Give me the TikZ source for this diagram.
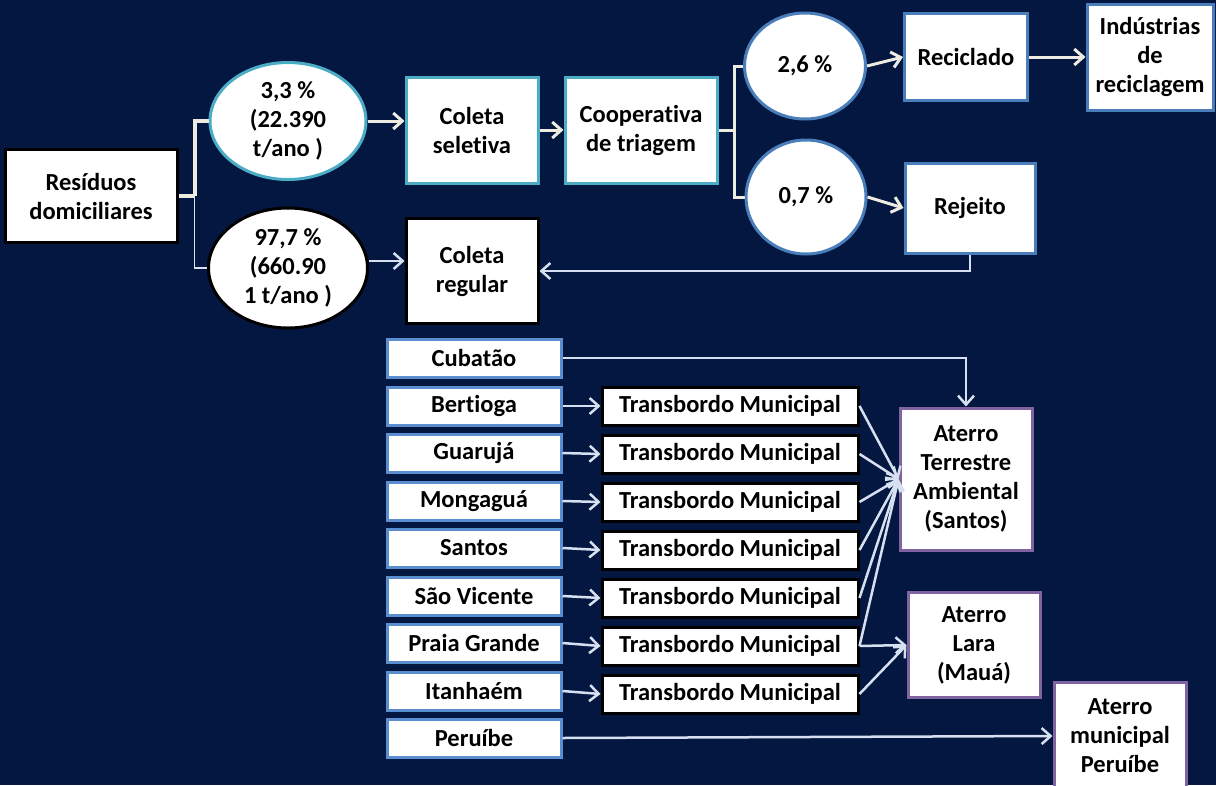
\documentclass[tikz,border=0pt]{standalone}
\usepackage{fontspec}
\setmainfont{Carlito}[Ligatures=NoCommon]
\usetikzlibrary{arrows.meta,shapes.geometric}
\definecolor{fundo}{HTML}{031741}
\definecolor{azulclaro}{HTML}{4BACC6}
\definecolor{azul}{HTML}{4A7EBB}
\definecolor{azulmun}{HTML}{5B8ED0}
\definecolor{roxo}{HTML}{8064A2}
\definecolor{creme}{HTML}{EEECE1}
\definecolor{cinzaazul}{HTML}{D6E0F0}
\tikzset{
	texto/.style={font=\bfseries\fontsize{24.5}{29}\selectfont, text=black, align=center, inner sep=0pt},
	caixa/.style={texto, draw=black, fill=white, line width=3pt},
	elipse/.style={texto, ellipse, draw=black, fill=white, line width=3pt},
	liga/.style={draw=creme, line width=3pt},
	seta/.style={liga, -{Straight Barb[length=9pt, width=16pt, line width=3pt]}},
	setab/.style={draw=cinzaazul, line width=2.5pt, -{Straight Barb[length=9pt, width=16pt, line width=2.5pt]}},
	municipio/.style={caixa, draw=azulmun, minimum width=174pt, minimum height=38pt},
	transbordo/.style={caixa, minimum width=256pt, minimum height=38pt},
	aterro/.style={caixa, draw=roxo}
}
\begin{document}
\begin{tikzpicture}[x=1pt, y=-1pt]
		%%%%% START %%%%%
		\fill[fundo] (0, 0) rectangle (1216, 785);
		\useasboundingbox (0, 0) rectangle (1216, 785);
		
		\node[caixa, minimum width=172pt, minimum height=93pt] (res) at (91, 196) {Resíduos\\domiciliares};
		\node[elipse, draw=azulclaro, minimum width=156pt, minimum height=117pt] (e33) at (288, 121) {3,3 \%\\(22.390\\t/ano )};
		\node[elipse, minimum width=159pt, minimum height=120pt] (e977) at (288, 268) {97,7 \%\\(660.90\\1 t/ano )};
		\node[caixa, draw=azulclaro, minimum width=132pt, minimum height=106pt] (cs) at (472, 130) {Coleta\\seletiva};
		\node[caixa, draw=azulclaro, minimum width=152pt, minimum height=106pt] (coop) at (641, 130) {Cooperativa\\de triagem};
		\node[caixa, minimum width=132pt, minimum height=105pt] (cr) at (472, 271) {Coleta\\regular};
		
		\node[elipse, draw=azul, minimum width=121pt, minimum height=106pt] (e26) at (805, 66) {2,6 \%};
		\node[elipse, draw=azul, minimum width=120pt, minimum height=114pt] (e07) at (806, 197) {0,7 \%};
		\node[caixa, draw=azul, minimum width=123pt, minimum height=87pt] (rec) at (966, 57) {Reciclado};
		\node[caixa, draw=azul, minimum width=126pt, minimum height=106pt] (ind) at (1150, 57) {Indústrias\\de\\reciclagem};
		\node[caixa, draw=azul, minimum width=130pt, minimum height=90pt] (rej) at (970, 208) {Rejeito};
		
		% ramos de cima
		\draw[liga, line width=4pt] (res.east) -- ++(16, 0) coordinate (b1);
		\draw[liga, line width=4pt] (b1) |- (e33.west);
		\draw[liga, line width=1.5pt, draw=cinzaazul] (b1) |- (e977.west);
		\draw[seta] (e33.east) -- (e33.east -| cs.west);
		\draw[setab, line width=1.5pt] ([yshift=7pt]e977.east) -- ([yshift=7pt]e977.east -| cr.west);
		\draw[seta] (cs.east) -- (coop.west);
		\draw[liga] (coop.east) -- ++(16, 0) coordinate (b2);
		\draw[liga] (b2) |- (e26.west);
		\draw[liga] (b2) |- (e07.west);
		\draw[seta] (e26.east) -- (rec.west);
		\draw[seta] (rec.east) -- (ind.west);
		\draw[seta] (e07.east) -- (rej.west);
		\draw[setab] (rej.south) |- (cr.east);
		
		% municipios
		\node[municipio] (cub) at (474, 358) {Cubatão};
		\node[municipio] (ber) at (474, 406) {Bertioga};
		\node[municipio] (gua) at (474, 453) {Guarujá};
		\node[municipio] (mon) at (474, 501) {Mongaguá};
		\node[municipio] (san) at (474, 548) {Santos};
		\node[municipio] (sv) at (474, 596) {São Vicente};
		\node[municipio] (pg) at (474, 643) {Praia Grande};
		\node[municipio] (ita) at (474, 691) {Itanhaém};
		\node[municipio] (per) at (474, 738) {Peruíbe};
		
		\node[transbordo] (t1) at (730, 406) {Transbordo Municipal};
		\node[transbordo] (t2) at (730, 454) {Transbordo Municipal};
		\node[transbordo] (t3) at (730, 502) {Transbordo Municipal};
		\node[transbordo] (t4) at (730, 550) {Transbordo Municipal};
		\node[transbordo] (t5) at (730, 598) {Transbordo Municipal};
		\node[transbordo] (t6) at (730, 646) {Transbordo Municipal};
		\node[transbordo] (t7) at (730, 694) {Transbordo Municipal};
		
		\node[aterro, minimum width=132pt, minimum height=142pt] (ata) at (966, 479) {Aterro\\Terrestre\\Ambiental\\(Santos)};
		\node[aterro, minimum width=132pt, minimum height=105pt] (lara) at (974, 645) {Aterro\\Lara\\(Mauá)};
		\node[aterro, minimum width=132pt, minimum height=108pt] (ap) at (1120, 736) {Aterro\\municipal\\Peruíbe};
		
		\draw[setab] (cub.east) -| (ata.north);
		\draw[setab] (ber.east) -- (t1.west);
		\draw[setab] (gua.east) -- (t2.west);
		\draw[setab] (mon.east) -- (t3.west);
		\draw[setab] (san.east) -- (t4.west);
		\draw[setab] (sv.east) -- (t5.west);
		\draw[setab] (pg.east) -- (t6.west);
		\draw[setab] (ita.east) -- (t7.west);
		\draw[setab] (per.east) -- (ap.west);
		
		\draw[setab] (t1.east) -- (ata.west);
		\draw[setab] (t2.east) -- (ata.west);
		\draw[setab] (t3.east) -- (ata.west);
		\draw[setab] (t4.east) -- (ata.west);
		\draw[setab] (t5.east) -- (ata.west);
		\draw[setab] (t6.east) -- (ata.west);
		\draw[setab] (t6.east) -- (lara.west);
		\draw[setab] (t7.east) -- (lara.west);
		
		%%%%% END %%%%%
\end{tikzpicture}
\end{document}
